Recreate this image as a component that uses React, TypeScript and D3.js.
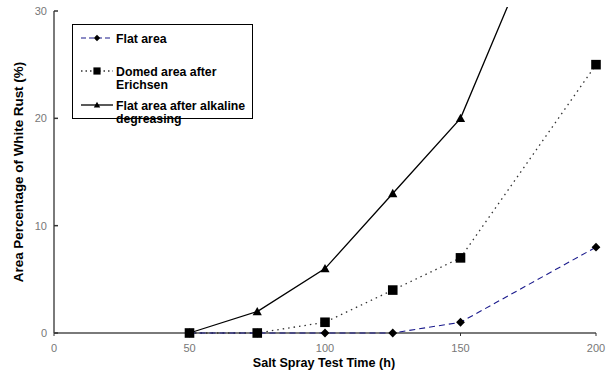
import * as d3 from 'd3';
import { useEffect, useRef } from 'react';

// salt spray test time (h)
const hours = [50, 75, 100, 125, 150, 200];
const flatArea = [0, 0, 0, 0, 1, 8];
const domedArea = [0, 0, 1, 4, 7, 25];
const alkalineArea = [0, 2, 6, 13, 20, 50];
const xTicks = [0, 50, 100, 150, 200];
const yTicks = [0, 10, 20, 30];

const seriesNames = ['Flat area', 'Domed area after|Erichsen', 'Flat area after alkaline|degreasing'];

export default function App() {
  const ref = useRef<SVGSVGElement>(null);

  useEffect(() => {
    const width = 607, height = 372;
    const margin = { top: 11, right: 11, bottom: 39, left: 54 };
    const font = 'Arial, "Liberation Sans", sans-serif';
    const axisColor = '#7a7a7a';

    const svg = d3.select(ref.current);
    svg.selectAll('*').remove();

    const x = d3.scaleLinear().domain([0, 200]).range([margin.left, width - margin.right]);
    const y = d3.scaleLinear().domain([0, 30]).range([height - margin.bottom, margin.top]);

    svg.append('defs').append('clipPath').attr('id', 'plotclip')
      .append('rect')
      .attr('x', margin.left).attr('y', margin.top - 4)
      .attr('width', width - margin.left - margin.right + 10)
      .attr('height', height - margin.top - margin.bottom + 10);

    // axes
    svg.append('line')
      .attr('x1', x(0)).attr('x2', x(0)).attr('y1', y(30)).attr('y2', y(0))
      .attr('stroke', axisColor).attr('stroke-width', 2);
    svg.append('line')
      .attr('x1', x(0)).attr('x2', x(200)).attr('y1', y(0)).attr('y2', y(0))
      .attr('stroke', axisColor).attr('stroke-width', 2);

    svg.selectAll('.ytick').data(yTicks).enter().append('line')
      .attr('x1', x(0)).attr('x2', x(0) + 4)
      .attr('y1', d => y(d)).attr('y2', d => y(d))
      .attr('stroke', '#333').attr('stroke-width', 1.5);
    svg.selectAll('.xtick').data(xTicks).enter().append('line')
      .attr('x1', d => x(d)).attr('x2', d => x(d))
      .attr('y1', y(0)).attr('y2', y(0) + 3)
      .attr('stroke', '#333').attr('stroke-width', 1);

    svg.selectAll('.ylab').data(yTicks).enter().append('text')
      .attr('x', x(0) - 7).attr('y', d => y(d) + 4)
      .attr('text-anchor', 'end')
      .attr('font-family', font).attr('font-size', 11).attr('fill', '#777')
      .text(d => d);
    svg.selectAll('.xlab').data(xTicks).enter().append('text')
      .attr('x', d => x(d)).attr('y', y(0) + 19)
      .attr('text-anchor', 'middle')
      .attr('font-family', font).attr('font-size', 11).attr('fill', '#777')
      .text(d => d);

    svg.append('text')
      .attr('x', 324).attr('y', 367)
      .attr('text-anchor', 'middle')
      .attr('font-family', font).attr('font-size', 12.6).attr('font-weight', 'bold')
      .text('Salt Spray Test Time (h)');
    svg.append('text')
      .attr('transform', 'translate(23,' + (y(15)) + ') rotate(-90)')
      .attr('text-anchor', 'middle')
      .attr('font-family', font).attr('font-size', 13.4).attr('font-weight', 'bold')
      .text('Area Percentage of White Rust (%)');

    const series = [
      { values: flatArea, color: '#1a1a8c', dash: '6,4', width: 1.1, marker: 'diamond' },
      { values: domedArea, color: '#333', dash: '1.5,4', width: 1.3, marker: 'square' },
      { values: alkalineArea, color: '#000', dash: null, width: 1.3, marker: 'triangle' },
    ];

    const markerPath = (type: string, r: number) => {
      if (type === 'diamond') return `M0,${-r}L${r},0L0,${r}L${-r},0Z`;
      if (type === 'square') return `M${-r},${-r}H${r}V${r}H${-r}Z`;
      return `M0,${-r}L${r},${r * 0.8}H${-r}Z`;
    };

    const line = d3.line<number>()
      .x((d, i) => x(hours[i]))
      .y(d => y(d));

    const plot = svg.append('g').attr('clip-path', 'url(#plotclip)');

    // draw in reverse so flat area is on top
    series.slice().reverse().forEach(s => {
      plot.append('path')
        .attr('d', line(s.values))
        .attr('fill', 'none')
        .attr('stroke', s.color)
        .attr('stroke-width', s.width)
        .attr('stroke-dasharray', s.dash);
    });
    series.slice().reverse().forEach(s => {
      const r = s.marker === 'square' ? 4.8 : s.marker === 'diamond' ? 4.4 : 4.6;
      plot.selectAll(null).data(s.values).enter().append('path')
        .attr('d', markerPath(s.marker, r))
        .attr('transform', (d, i) => 'translate(' + x(hours[i]) + ',' + y(d) + ')')
        .attr('fill', '#000');
    });

    // legend
    const lg = svg.append('g');
    lg.append('rect')
      .attr('x', 72.5).attr('y', 24.5).attr('width', 180).attr('height', 94)
      .attr('fill', '#fff').attr('stroke', '#000').attr('stroke-width', 1);
    const rowY = [38, 71, 105];
    series.forEach((s, i) => {
      lg.append('line')
        .attr('x1', 81).attr('x2', 113).attr('y1', rowY[i]).attr('y2', rowY[i])
        .attr('stroke', s.color).attr('stroke-width', s.width)
        .attr('stroke-dasharray', s.dash ? (i === 0 ? '5,3' : '1.5,3') : null);
      lg.append('path')
        .attr('d', markerPath(s.marker, s.marker === 'square' ? 3.6 : 3.2))
        .attr('transform', 'translate(97,' + rowY[i] + ')')
        .attr('fill', '#000');
      seriesNames[i].split('|').forEach((t, j) => {
        lg.append('text')
          .attr('x', 116).attr('y', rowY[i] + 4.5 + j * 13)
          .attr('font-family', font).attr('font-size', 12.3).attr('font-weight', 'bold')
          .text(t);
      });
    });
  }, []);

  return (
    <svg ref={ref} width={607} height={372}
      style={{ position: 'absolute', left: 0, top: 0, background: '#fff' }} />
  );
}
